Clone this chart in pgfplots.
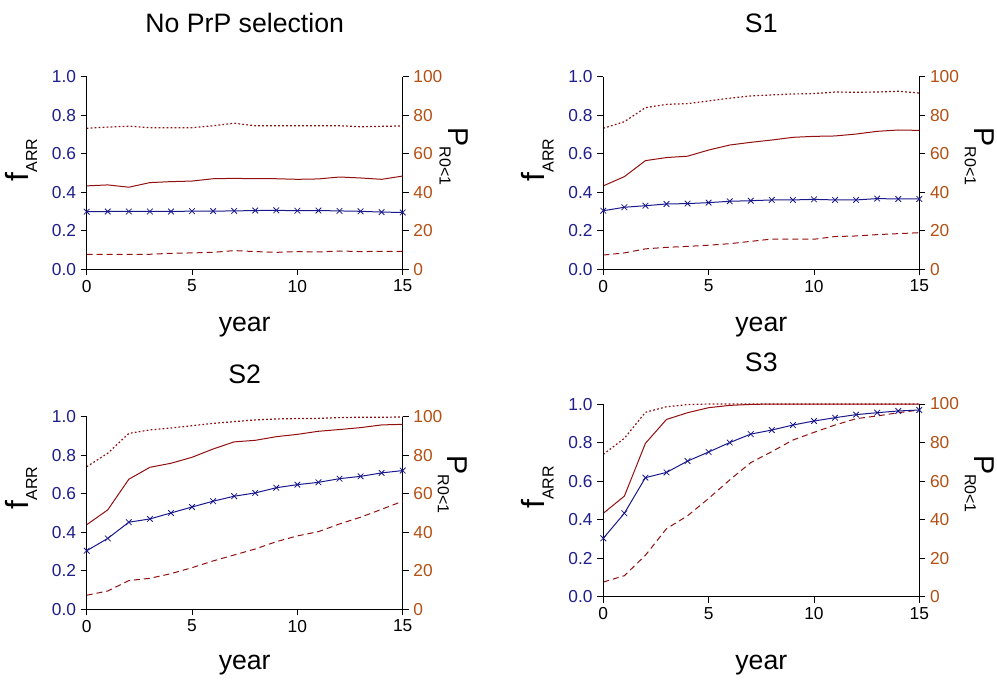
\documentclass[border=0pt]{standalone}
\usepackage{fontspec}
\setmainfont{Liberation Sans}
\usepackage{pgfplots}
\usepackage{pgfplotstable}
\pgfplotsset{compat=1.18}

\definecolor{fblue}{RGB}{25,25,140}
\definecolor{tickblue}{RGB}{30,30,140}
\definecolor{tickbrown}{RGB}{180,80,20}
\definecolor{pred}{RGB}{145,15,15}

\pgfplotstableread{
year f s d dd
0 0.299 43.3 73.2 7.8
1 0.300 43.8 73.8 7.8
2 0.300 42.6 74.3 7.8
3 0.300 45.0 73.5 7.8
4 0.300 45.5 73.5 8.3
5 0.302 45.8 73.5 8.5
6 0.302 47.0 74.5 8.8
7 0.303 47.2 75.8 9.7
8 0.305 47.0 74.5 9.2
9 0.306 47.0 74.5 8.8
10 0.304 46.7 74.5 9.2
11 0.305 46.9 74.5 9.0
12 0.303 47.9 74.5 9.5
13 0.301 47.4 74.0 9.2
14 0.297 46.7 74.2 9.3
15 0.295 48.4 74.4 9.3
}\tA

\pgfplotstableread{
year f s d dd
0 0.304 43.3 73.2 7.4
1 0.322 48.1 76.6 8.5
2 0.330 56.4 83.9 10.6
3 0.339 58.0 85.6 11.4
4 0.341 58.7 86.0 11.9
5 0.346 61.9 87.4 12.5
6 0.353 64.5 88.8 13.3
7 0.356 65.9 90.0 14.5
8 0.360 67.1 90.5 15.7
9 0.360 68.5 91.0 15.7
10 0.363 69.0 91.2 15.6
11 0.360 69.2 92.0 17.0
12 0.360 70.2 91.9 17.3
13 0.367 71.6 92.0 18.0
14 0.365 72.3 92.4 18.5
15 0.365 72.1 91.5 19.0
}\tB

\pgfplotstableread{
year f s d dd
0 0.304 43.9 74.0 7.3
1 0.368 51.6 81.0 9.5
2 0.452 67.5 91.3 14.9
3 0.469 73.7 93.1 16.1
4 0.500 75.8 94.1 18.5
5 0.531 78.9 95.3 21.6
6 0.561 83.2 96.5 25.1
7 0.587 86.9 97.4 28.2
8 0.604 87.7 98.3 31.3
9 0.631 89.6 98.8 35.1
10 0.647 90.8 99.0 38.1
11 0.659 92.4 99.1 40.3
12 0.678 93.3 99.5 44.3
13 0.690 94.3 99.7 47.8
14 0.708 95.7 99.7 51.9
15 0.720 96.0 99.8 56.1
}\tC

\pgfplotstableread{
year f s d dd
0 0.303 43.3 73.9 7.6
1 0.433 52.2 82.2 10.9
2 0.618 79.6 95.7 21.5
3 0.645 92.0 98.6 35.3
4 0.704 95.5 99.7 42.0
5 0.751 98.1 100 51.0
6 0.800 99.3 100 60.6
7 0.844 99.8 100 69.6
8 0.865 100 100 75.3
9 0.891 100 100 81.3
10 0.912 100 100 85.3
11 0.929 100 100 89.1
12 0.945 100 100 92.4
13 0.955 100 100 93.8
14 0.964 100 100 95.5
15 0.969 100 100 96.9
}\tD

\pgfplotsset{
  panelbase/.style={
    scale only axis, width=237pt, height=144.5pt,
    xmin=0, xmax=15, xtick={0,5,10,15},
    tick align=outside, major tick length=4.5pt,
    clip=false,
    /pgf/number format/assume math mode=true,
    tick style={black, line width=0.6pt},
    axis line style={line width=0.75pt, black},
    anchor=south west,
    tick label style={font=\fontsize{13}{15}\selectfont},
  },
}

% #1 x px, #2 y px (from bottom), #3 title, #4 table, #5 title shift, #6 xlabel shift, #7 P label x frac, #8 label y frac
\newcommand{\panel}[8]{%
  \begin{axis}[panelbase, at={(#1*0.75pt,#2*0.75pt)},
    axis x line=none, axis y line*=right,
    ymin=0, ymax=100, ytick={0,20,40,60,80,100},
    yticklabel style={color=tickbrown},
    ylabel={\fontsize{21.5}{24}\selectfont P\raisebox{-0.32em}{\fontsize{12}{14}\selectfont R0<1}},
    every axis y label/.style={at={(axis description cs:#7,#8+0.018)}, anchor=center, rotate=-90},
  ]
    \addplot[pred, line width=0.75pt] table[x=year, y=s]{#4};
    \addplot[pred, line width=0.9pt, dash pattern=on 1.3pt off 1.7pt] table[x=year, y=d]{#4};
    \addplot[pred, line width=0.75pt, dash pattern=on 4.5pt off 3pt] table[x=year, y=dd]{#4};
  \end{axis}
  \begin{axis}[panelbase, at={(#1*0.75pt,#2*0.75pt)},
    axis x line*=bottom, axis y line*=left,
    ymin=0, ymax=1, ytick={0,0.2,0.4,0.6,0.8,1.0},
    yticklabel style={color=tickblue, /pgf/number format/.cd, fixed, fixed zerofill, precision=1},
    title={#3},
    every axis title/.style={at={(axis description cs:0.5,1)}, anchor=center, yshift=#5, font=\fontsize{20}{24}\selectfont},
    xlabel={year},
    every axis x label/.style={at={(axis description cs:0.5,0)}, anchor=center, yshift=#6, font=\fontsize{20}{24}\selectfont},
    ylabel={\fontsize{24}{26}\selectfont f\raisebox{-0.28em}{\fontsize{12}{14}\selectfont ARR}},
    every axis y label/.style={at={(axis description cs:-0.208,#8)}, anchor=center, rotate=90},
  ]
    \addplot[fblue, line width=0.75pt, mark=x, mark size=3pt, mark options={solid, line width=0.6pt}] table[x=year, y=f]{#4};
  \end{axis}
}

\begin{document}
\begin{tikzpicture}
  \useasboundingbox (0,0) rectangle (747.75pt,509.25pt);
  \panel{86.7}{409.7}{No PrP selection}{\tA}{40.3pt}{-43.3pt}{1.162}{0.567}
  \panel{603.3}{409.7}{S1}{\tB}{40.3pt}{-43.3pt}{1.19}{0.567}
  \panel{86.7}{69.7}{S2}{\tC}{32pt}{-41.8pt}{1.157}{0.63}
  \panel{603.3}{82.3}{S3}{\tD}{31.5pt}{-51pt}{1.19}{0.567}
\end{tikzpicture}
\end{document}
